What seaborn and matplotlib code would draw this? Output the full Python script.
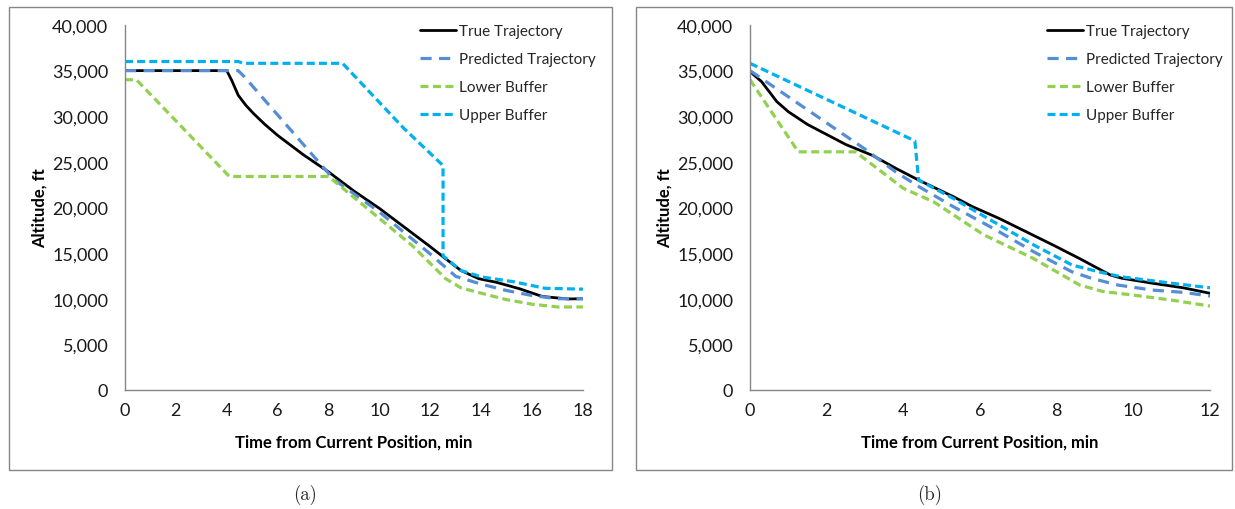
import matplotlib
matplotlib.use("Agg")
import matplotlib.pyplot as plt
from matplotlib.patches import Rectangle
import seaborn as sns
import pandas as pd

# ---------------- data ----------------
series_names = ["True Trajectory", "Predicted Trajectory", "Lower Buffer", "Upper Buffer"]

# panel (a)
a_true_t = [0, 4.0, 4.2, 4.45, 4.75, 5.05, 5.5, 6.0, 7.0, 8.0, 9.0, 10.0, 11.0, 12.0, 12.5,
            13.2, 13.9, 14.6, 15.5, 16.4, 17.4, 18.0]
a_true_alt = [35000, 35000, 33900, 32300, 31200, 30300, 29100, 27900, 25800, 23900, 21800,
              19900, 17800, 15700, 14600, 13100, 12200, 11800, 11100, 10250, 9980, 10000]
a_pred_t = [0, 4.45, 4.7, 8.2, 10.0, 12.0, 13.0, 14.0, 15.0, 16.0, 17.0, 18.0]
a_pred_alt = [35000, 35000, 34300, 23100, 19500, 14900, 12450, 11600, 10900, 10350, 10000, 10000]
a_low_t = [0, 0.45, 4.1, 8.0, 9.0, 10.0, 11.3, 12.6, 13.2, 13.8, 15.0, 16.0, 17.0, 18.0]
a_low_alt = [34000, 34000, 23400, 23400, 21100, 18800, 15800, 12200, 11200, 10750, 9900, 9400,
             9100, 9100]
a_up_t = [0, 4.45, 4.65, 8.55, 10.95, 12.5, 12.5, 13.2, 14.0, 15.3, 16.5, 18.0]
a_up_alt = [36000, 36000, 35800, 35800, 28700, 24600, 14700, 13100, 12400, 11850, 11150, 11050]

# panel (b)
b_true_t = [0, 0.3, 0.7, 1.0, 1.5, 2.0, 2.5, 3.2, 3.8, 4.4, 5.3, 5.8, 6.5, 7.2, 7.9, 8.6,
            9.4, 9.7, 10.5, 11.3, 12.0]
b_true_alt = [34900, 33800, 31600, 30500, 29100, 28000, 26900, 25700, 24300, 23000, 21200,
              20100, 18800, 17350, 15900, 14400, 12600, 12250, 11700, 11200, 10600]
b_pred_t = [0, 3.0, 3.8, 4.4, 5.3, 6.35, 7.4, 8.4, 8.9, 9.6, 10.5, 11.3, 12.0]
b_pred_alt = [35000, 26400, 23900, 22300, 20100, 17700, 15150, 12950, 12250, 11500, 10950,
              10700, 10300]
b_low_t = [0, 1.26, 2.75, 4.0, 4.8, 6.1, 7.4, 8.6, 9.2, 10.0, 11.0, 12.0]
b_low_alt = [34000, 26100, 26100, 22100, 20600, 17000, 14400, 11500, 10800, 10400, 9850, 9200]
b_up_t = [0, 4.3, 4.4, 5.3, 6.35, 7.4, 8.4, 9.1, 9.7, 11.0, 12.0]
b_up_alt = [35800, 27300, 23000, 21000, 18450, 15900, 13700, 12950, 12400, 11700, 11200]

y_ticks = [0, 5000, 10000, 15000, 20000, 25000, 30000, 35000, 40000]
y_ticklabels = ["0", "5,000", "10,000", "15,000", "20,000", "25,000", "30,000", "35,000", "40,000"]
a_xticks = [0, 2, 4, 6, 8, 10, 12, 14, 16, 18]
b_xticks = [0, 2, 4, 6, 8, 10, 12]
x_label = "Time from Current Position, min"
y_label = "Altitude, ft"
captions = ["(a)", "(b)"]

# ---------------- style ----------------
sns.set_theme(style="white")
plt.rcParams["font.family"] = ["Lato", "DejaVu Sans"]

colors = ["#000000", "#558ED5", "#92D050", "#00B0F0"]
widths = [2.0, 2.3, 2.3, 2.3]
styles = ["-", (0, (3.5, 2.3)), (0, (2.5, 1.4)), (0, (2.5, 1.3))]
axis_gray = "#868686"

fig = plt.figure(figsize=(12.35, 5.10), dpi=100)
W, H = 1235, 510

def fx(px):
    return px / W

def fy(py):
    return (H - py) / H

ax_a = fig.add_axes([fx(125), fy(391), fx(583) - fx(125), fy(26) - fy(391)])
ax_b = fig.add_axes([fx(750), fy(391), fx(1210) - fx(750), fy(26) - fy(391)])

panels = [
    (ax_a, [(a_true_t, a_true_alt), (a_pred_t, a_pred_alt), (a_low_t, a_low_alt), (a_up_t, a_up_alt)],
     a_xticks, 18),
    (ax_b, [(b_true_t, b_true_alt), (b_pred_t, b_pred_alt), (b_low_t, b_low_alt), (b_up_t, b_up_alt)],
     b_xticks, 12),
]

for ax, series, xt, xmax in panels:
    for (t, alt), name, c, lw, ls in zip(series, series_names, colors, widths, styles):
        df = pd.DataFrame({"t": t, "alt": alt})
        sns.lineplot(data=df, x="t", y="alt", ax=ax, color=c, linewidth=lw, linestyle=ls,
                     label=name, sort=False, estimator=None, errorbar=None)
    ax.set_xlim(0, xmax)
    ax.set_ylim(0, 40000)
    ax.set_xticks(xt)
    ax.set_xticklabels([str(v) for v in xt])
    ax.set_yticks(y_ticks)
    ax.set_yticklabels(y_ticklabels)
    for s in ["top", "right"]:
        ax.spines[s].set_visible(False)
    for s in ["left", "bottom"]:
        ax.spines[s].set_color(axis_gray)
        ax.spines[s].set_linewidth(1.0)
    ax.tick_params(axis="both", which="major", direction="out", length=4, width=1,
                   color=axis_gray, labelsize=13, labelcolor="#1a1a1a")
    ax.tick_params(axis="y", pad=8)
    ax.tick_params(axis="x", pad=5)
    ax.set_xlabel(x_label, fontsize=12, fontweight="bold", color="black")
    ax.set_ylabel(y_label, fontsize=12, fontweight="bold", color="black")
    ax.xaxis.set_label_coords(0.5, -0.12)
    ax.grid(False)
    ax.set_facecolor("white")

ax_a.yaxis.set_label_coords(-0.168, 0.5)
ax_b.yaxis.set_label_coords(-0.168, 0.5)

for ax, lx in [(ax_a, (420 - 125) / 458), (ax_b, (1047 - 750) / 460)]:
    ax.legend(loc="upper left", bbox_to_anchor=(lx, 1.003), frameon=False, fontsize=11,
              handlelength=2.35, handletextpad=0.2, labelspacing=0.92, borderpad=0,
              borderaxespad=0)

# panel frames
for x0, x1 in [(9, 612), (636, 1232)]:
    fig.patches.append(Rectangle((fx(x0), fy(471)), fx(x1) - fx(x0), fy(8) - fy(471),
                                 transform=fig.transFigure, fill=False,
                                 edgecolor=axis_gray, linewidth=1.0, zorder=0))

for cx, cap in zip([305, 930], captions):
    fig.text(fx(cx), fy(495), cap, ha="center", va="center", fontsize=13.5,
             family=["cmr10", "DejaVu Serif"])

fig.savefig("out.png", dpi=100, facecolor="white")
